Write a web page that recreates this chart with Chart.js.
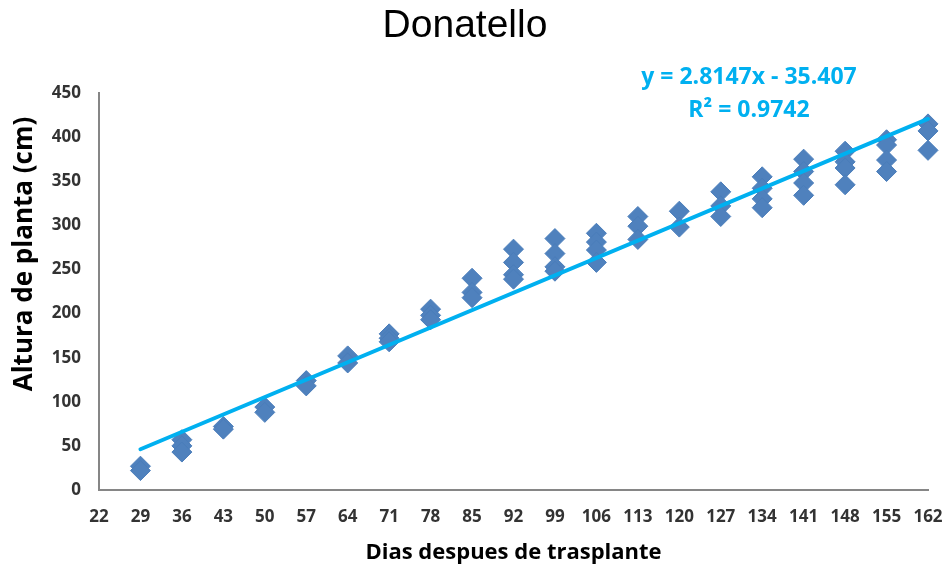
<!DOCTYPE html>
<html>
<head>
<meta charset="utf-8">
<script src="https://cdn.jsdelivr.net/npm/chart.js@4.4.1/dist/chart.umd.min.js"></script>
<style>
  html, body { margin: 0; padding: 0; background: #fff; }
  #chartContainer { width: 948px; height: 571px; position: relative; }
</style>
</head>
<body>
<div id="chartContainer"><canvas id="alturaChart"></canvas></div>
<script>
// dias despues de trasplante (eje x)
const dias = [29, 36, 43, 50, 57, 64, 71, 78, 85, 92, 99, 106, 113, 120, 127, 134, 141, 148, 155, 162];
// alturas medidas por dia (cm)
const alturas = [
    [27, 22],
    [57, 50, 43],
    [72, 69],
    [94, 88],
    [124, 118],
    [152, 144],
    [177, 172, 168],
    [205, 198, 193],
    [240, 224, 218],
    [273, 258, 244, 239],
    [285, 268, 253, 248],
    [291, 281, 272, 258],
    [310, 299, 284],
    [316, 298],
    [338, 322, 310],
    [355, 342, 330, 320],
    [375, 361, 348, 334],
    [384, 372, 365, 346],
    [397, 391, 374, 361],
    [415, 407, 385]
];
// linea de tendencia
const pendiente = 2.8147;
const intercepto = -35.407;
const ecuacion = ['y = 2.8147x - 35.407', 'R\u00B2 = 0.9742'];

const xMin = 22, xMax = 162, xStep = 7;
const yMin = 0, yMax = 450, yStep = 50;

document.addEventListener("DOMContentLoaded", function() {
    const ctx = document.getElementById('alturaChart').getContext('2d');

    const puntos = [];
    dias.forEach((d, i) => {
        alturas[i].forEach(h => puntos.push({ x: d, y: h }));
    });

    const d0 = dias[0], d1 = dias[dias.length - 1];
    const tendencia = [
        { x: d0, y: pendiente * d0 + intercepto },
        { x: d1, y: pendiente * d1 + intercepto }
    ];

    // title, y-axis title and equation drawn by hand
    const textos = {
        id: 'textos',
        afterDraw(chart) {
            const c = chart.ctx;
            c.save();
            c.textAlign = 'center';
            c.textBaseline = 'middle';
            c.fillStyle = '#000';
            c.font = '39px "Liberation Sans", Arial, sans-serif';
            c.fillText('Donatello', 465, 26);

            c.fillStyle = '#00B0F0';
            c.font = 'bold 23px "Open Sans", sans-serif';
            c.fillText(ecuacion[0], 749, 77);
            c.fillText(ecuacion[1], 749, 110);

            c.translate(25, 254);
            c.rotate(-Math.PI / 2);
            c.fillStyle = '#000';
            c.font = 'bold 26px "Open Sans", sans-serif';
            c.fillText('Altura de planta (cm)', 0, 0);
            c.restore();
        }
    };

    const config = {
        type: 'scatter',
        data: {
            datasets: [
                {
                    type: 'line',
                    data: tendencia,
                    borderColor: '#00B0F0',
                    borderWidth: 4,
                    borderCapStyle: 'round',
                    pointRadius: 0,
                    fill: false,
                    clip: false,
                    order: 0
                },
                {
                    data: puntos,
                    pointStyle: 'rectRot',
                    pointRadius: 10,
                    pointHoverRadius: 10,
                    backgroundColor: '#4F81BD',
                    borderColor: '#4A7DBA',
                    borderWidth: 1,
                    clip: false,
                    order: 1
                }
            ]
        },
        options: {
            responsive: true,
            maintainAspectRatio: false,
            animation: false,
            layout: { padding: { top: 93, right: 20, left: 0, bottom: 0 } },
            plugins: {
                legend: { display: false },
                tooltip: { enabled: false }
            },
            scales: {
                x: {
                    type: 'linear',
                    min: xMin,
                    max: xMax,
                    grid: { display: false, drawTicks: false },
                    border: { display: true, color: '#868686', width: 2 },
                    ticks: {
                        stepSize: xStep,
                        autoSkip: false,
                        maxRotation: 0,
                        padding: 17,
                        color: '#333',
                        font: { family: 'Open Sans', weight: 'bold', size: 17 }
                    },
                    title: {
                        display: true,
                        text: 'Dias despues de trasplante',
                        color: '#000',
                        font: { family: 'Open Sans', weight: 'bold', size: 22 },
                        padding: { top: 0, bottom: 5 }
                    },
                    afterFit(scale) {
                        scale.height = 81;
                        scale.paddingRight = 0;
                        scale.paddingLeft = 0;
                    }
                },
                y: {
                    min: yMin,
                    max: yMax,
                    grid: { display: false, drawTicks: false },
                    border: { display: true, color: '#868686', width: 2 },
                    ticks: {
                        stepSize: yStep,
                        padding: 18,
                        color: '#333',
                        font: { family: 'Open Sans', weight: 'bold', size: 17 }
                    },
                    afterFit(scale) { scale.width = 99; }
                }
            }
        },
        plugins: [textos]
    };

    new Chart(ctx, config);
});
</script>
</body>
</html>
